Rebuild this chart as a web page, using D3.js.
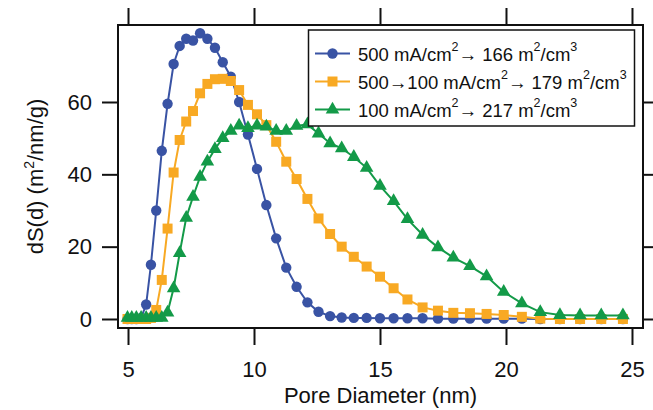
<!DOCTYPE html>
<html>
<head>
<meta charset="utf-8">
<script src="https://cdn.jsdelivr.net/npm/d3@7"></script>
<style>
  html, body { margin: 0; padding: 0; background: #fff; }
  svg { display: block; font-family: "Liberation Sans", Arial, sans-serif; }
</style>
</head>
<body>
<div id="chart"></div>
<script>
// Pore diameter grid (nm), shared by all three series
const diameter = [4.98, 5.15, 5.33, 5.52, 5.72, 5.91, 6.12, 6.34, 6.57, 6.81,
  7.05, 7.31, 7.58, 7.86, 8.15, 8.45, 8.76, 9.08, 9.41, 9.76,
  10.12, 10.49, 10.88, 11.28, 11.69, 12.12, 12.56, 13.02, 13.48, 13.96,
  14.47, 15.0, 15.54, 16.09, 16.69, 17.30, 17.91, 18.57, 19.23, 19.91,
  20.63, 21.36, 22.14, 22.94, 23.78, 24.64];

// dS(d) values (m^2/nm/g)
const s500 = [0, 0, 0, 0.3, 4, 15, 30, 46.5, 59.5, 70.5,
  75.5, 77.5, 77, 79, 77.5, 75, 71, 67, 60, 51,
  41.5, 31.5, 22.3, 14.2, 8.9, 4.6, 2.0, 0.8, 0.4, 0.3,
  0.3, 0.2, 0.2, 0.2, 0.2, 0.1, 0.1, 0.1, 0.1, 0.1,
  0.1, 0, 0, 0, 0, 0];
const s500to100 = [0, 0, 0, 0, 0, 0.3, 2.5, 10.8, 25, 40.5,
  49.5, 54.6, 57.5, 62.4, 65, 66.3, 66.4, 65.8, 63.3, 59.2,
  56.6, 53.6, 49, 43.5, 38.7, 33.2, 27.8, 23.5, 20, 17.2,
  14.5, 11.7, 8.5, 5.4, 3.2, 2.3, 1.7, 1.6, 1.4, 1.1,
  0.6, 0.1, 0, 0, 0, 0];
const s100 = [0.3, 0.3, 0.3, 0.3, 0.3, 0.3, 0.3, 0.3, 1.8, 8.5,
  18.2, 28, 33.8, 39.3, 43.5, 47, 50, 52, 53.5, 52.8,
  53.5, 53.2, 52, 52, 53.4, 53.8, 51.3, 48.6, 47.2, 44.8,
  41.8, 36.8, 32.6, 27.6, 23.3, 19.8, 17, 14.6, 11.8, 7.5,
  4.3, 1.9, 1.1, 1.0, 1.0, 1.0];

// Legend labels as [text, isSuperscript] pieces
const label500 = [["500 mA/cm"], ["2", 1], ["\u2192 166 m"], ["2", 1], ["/cm"], ["3", 1]];
const label500to100 = [["500\u2192100 mA/cm"], ["2", 1], ["\u2192 179 m"], ["2", 1], ["/cm"], ["3", 1]];
const label100 = [["100 mA/cm"], ["2", 1], ["\u2192 217 m"], ["2", 1], ["/cm"], ["3", 1]];

const xTicks = [5, 10, 15, 20, 25];
const yTicks = [0, 20, 40, 60];

const series = [
  { values: s500, label: label500, color: '#3953a4', symbol: d3.symbolCircle, size: 85 },
  { values: s500to100, label: label500to100, color: '#f8a923', symbol: d3.symbolSquare, size: 100 },
  { values: s100, label: label100, color: '#139a48', symbol: d3.symbolTriangle, size: 80 },
];

const W = 653, H = 410;
const margin = { top: 25, right: 10, bottom: 82, left: 118 };
const innerW = W - margin.left - margin.right;
const innerH = H - margin.top - margin.bottom;

const svg = d3.select('#chart').append('svg')
  .attr('width', W)
  .attr('height', H);

const x = d3.scaleLinear().domain([4.603, 25.437]).range([margin.left, margin.left + innerW]);
const y = d3.scaleLinear().domain([-2.49, 81.29]).range([margin.top + innerH, margin.top]);

// Axes (ticks outward on all four sides)
function styleAxis(g) {
  g.select('.domain').remove();
  g.selectAll('.tick line').attr('stroke', '#111').attr('stroke-width', 2);
  g.selectAll('.tick text').attr('fill', '#111').style('font-size', '22px')
    .style('font-family', '"Liberation Sans", Arial, sans-serif');
}

svg.append('g')
  .attr('transform', `translate(0,${margin.top + innerH})`)
  .call(d3.axisBottom(x).tickValues(xTicks).tickSize(17).tickPadding(16).tickFormat(d3.format('d')))
  .call(styleAxis);

svg.append('g')
  .attr('transform', `translate(0,${margin.top})`)
  .call(d3.axisTop(x).tickValues(xTicks).tickSize(17).tickFormat(''))
  .call(styleAxis);

svg.append('g')
  .attr('transform', `translate(${margin.left},0)`)
  .call(d3.axisLeft(y).tickValues(yTicks).tickSize(16).tickPadding(10).tickFormat(d3.format('d')))
  .call(styleAxis);

svg.append('g')
  .attr('transform', `translate(${margin.left + innerW},0)`)
  .call(d3.axisRight(y).tickValues(yTicks).tickSize(16).tickFormat(''))
  .call(styleAxis);

// Plot frame
svg.append('rect')
  .attr('x', margin.left)
  .attr('y', margin.top)
  .attr('width', innerW)
  .attr('height', innerH)
  .attr('fill', 'none')
  .attr('stroke', '#111')
  .attr('stroke-width', 2);

// Series
const line = d3.line().x((d, i) => x(diameter[i])).y(d => y(d));

for (const s of series) {
  const g = svg.append('g');
  g.append('path')
    .attr('d', line(s.values))
    .attr('fill', 'none')
    .attr('stroke', s.color)
    .attr('stroke-width', 2);
  g.selectAll('path.pt')
    .data(s.values)
    .join('path')
    .attr('class', 'pt')
    .attr('transform', (d, i) => `translate(${x(diameter[i])},${y(d)})`)
    .attr('d', d3.symbol(s.symbol, s.size))
    .attr('fill', s.color);
}

// Axis titles
svg.append('text')
  .attr('x', margin.left + innerW / 2)
  .attr('y', 403)
  .attr('text-anchor', 'middle')
  .attr('fill', '#111')
  .style('font-size', '22px')
  .text('Pore Diameter (nm)');

const yTitle = svg.append('text')
  .attr('transform', `translate(43,${margin.top + innerH / 2}) rotate(-90)`)
  .attr('text-anchor', 'middle')
  .attr('fill', '#111')
  .style('font-size', '22px');
yTitle.append('tspan').text('dS(d) (m');
yTitle.append('tspan').attr('dy', -9).style('font-size', '14px').text('2');
yTitle.append('tspan').attr('dy', 9).text('/nm/g)');

// Legend
const legend = svg.append('g');
legend.append('rect')
  .attr('x', 308.5)
  .attr('y', 30)
  .attr('width', 326)
  .attr('height', 96)
  .attr('fill', '#fff')
  .attr('stroke', '#111')
  .attr('stroke-width', 1.5);

series.forEach((s, i) => {
  const cy = 53.5 + i * 28;
  legend.append('line')
    .attr('x1', 315).attr('x2', 350)
    .attr('y1', cy).attr('y2', cy)
    .attr('stroke', s.color).attr('stroke-width', 2);
  legend.append('path')
    .attr('transform', `translate(332.5,${cy})`)
    .attr('d', d3.symbol(s.symbol, s.size))
    .attr('fill', s.color);
  const t = legend.append('text')
    .attr('x', 358)
    .attr('y', cy + 7)
    .attr('fill', '#111')
    .style('font-size', '18.5px');
  let raised = false;
  for (const [txt, sup] of s.label) {
    const span = t.append('tspan').text(txt);
    if (sup && !raised) { span.attr('dy', -10).style('font-size', '12.5px'); raised = true; }
    else if (!sup && raised) { span.attr('dy', 10); raised = false; }
  }
});
</script>
</body>
</html>
